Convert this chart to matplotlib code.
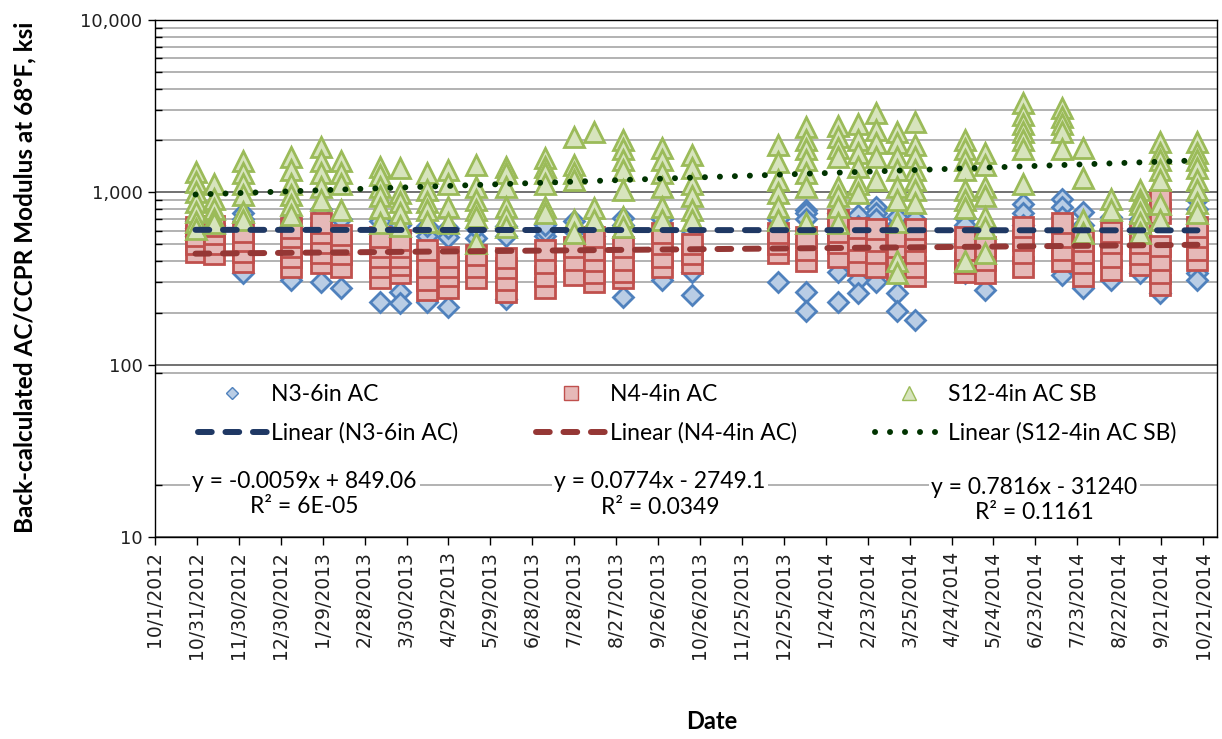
import matplotlib
matplotlib.use("Agg")
import matplotlib.pyplot as plt
from matplotlib.lines import Line2D
from matplotlib.patches import Rectangle
from matplotlib.ticker import FixedLocator, FuncFormatter, NullFormatter
from datetime import datetime, timedelta

plt.rcParams['font.family'] = ['Lato', 'DejaVu Sans']

# survey dates (FWD back-calculation runs)
survey = ["10/30/2012", "11/12/2012", "12/3/2012", "1/6/2013", "1/28/2013", "2/11/2013",
          "3/11/2013", "3/25/2013", "4/14/2013", "4/29/2013", "5/19/2013", "6/9/2013",
          "7/7/2013", "7/28/2013", "8/11/2013", "9/1/2013", "9/29/2013", "10/20/2013",
          "12/21/2013", "1/10/2014", "2/2/2014", "2/16/2014", "3/1/2014", "3/16/2014",
          "3/29/2014", "5/4/2014", "5/18/2014", "6/14/2014", "7/12/2014", "7/27/2014",
          "8/16/2014", "9/6/2014", "9/20/2014", "10/17/2014"]

# modulus, ksi, one list per survey date
n3 = [[560, 620, 680], [580, 650], [340, 600, 700, 760], [310, 600, 700],
      [300, 620, 720, 800], [280, 600, 700], [232, 600, 680], [263, 228, 580, 650],
      [232, 560, 640], [215, 550, 620], [540, 620], [240, 560, 640],
      [560, 600, 650], [600, 680], [560, 620], [247, 710, 650],
      [311, 600, 700], [345, 254, 600], [300, 620, 700], [263, 206, 790, 760, 700],
      [345, 232, 700, 760], [740, 311, 260, 640], [820, 300, 760, 700], [260, 206, 650, 720],
      [182, 600, 700], [710, 340, 650], [270, 620], [850, 760, 650],
      [920, 820, 330, 720], [770, 280, 650], [720, 311, 620], [340, 620, 700],
      [260, 700, 800], [900, 340, 311, 800, 700]]

n4 = [[450, 500, 560, 630], [440, 500, 570, 640], [395, 450, 520, 590], [370, 420, 480, 550, 620],
      [390, 446, 510, 580, 665], [370, 440, 500, 565], [320, 370, 420, 480, 550], [340, 380, 420, 480, 530],
      [270, 311, 370, 464], [280, 325, 370, 420], [320, 370, 430], [263, 311, 365, 415],
      [280, 325, 390, 464], [330, 406, 480], [300, 340, 400, 464, 550], [320, 345, 406, 480],
      [370, 420, 500, 580], [390, 440, 500], [446, 500, 580], [400, 464, 550],
      [420, 510, 590, 690], [380, 450, 530, 620], [370, 446, 520, 610], [360, 420, 480, 560],
      [325, 370, 446, 520, 610], [345, 390, 464, 550], [340, 406, 480], [370, 446, 530, 630],
      [400, 464, 550, 665], [325, 390, 446, 520], [355, 420, 510, 590], [380, 440, 510, 590],
      [290, 340, 406, 490, 760, 900], [406, 464, 550, 630]]

s12 = [[1320, 1150, 1000, 880, 770, 670, 610], [1120, 920, 800, 700, 665],
       [1510, 1300, 1120, 965, 770, 690], [1610, 1350, 1120, 965, 845, 740],
       [1840, 1510, 1300, 1070, 900], [1510, 1300, 1120, 790],
       [1400, 1260, 1070, 950, 810, 665], [1380, 990, 880, 760, 640],
       [1300, 1030, 880, 790, 670], [1350, 1120, 820, 665],
       [1440, 1070, 900, 790, 720, 510], [1400, 1300, 1070, 820, 720, 630],
       [1590, 1400, 1300, 1120, 820, 760], [2100, 1440, 1300, 1180, 690, 580],
       [2250, 810, 690], [2010, 1780, 1540, 1350, 1030, 720, 630],
       [1810, 1540, 1300, 1070, 820, 690], [1650, 1380, 1120, 950, 790, 690],
       [1880, 1500, 1180, 990, 820, 690], [2400, 2010, 1780, 1540, 1300, 1070, 665],
       [2430, 2100, 1810, 1610, 1070, 950, 820, 665], [2500, 2010, 1700, 1400, 1120, 990],
       [2900, 2300, 1930, 1610, 1180], [2250, 1930, 1610, 1350, 1070, 900, 670, 400, 340],
       [2560, 1880, 1610, 1350, 1180, 1030, 870], [2010, 1780, 1540, 1350, 1030, 900, 810, 400],
       [1700, 1440, 1070, 950, 720, 620, 446], [3300, 2800, 2500, 2250, 2010, 1780, 1120],
       [3100, 2750, 2500, 2250, 1780], [1810, 1210, 690, 580],
       [920, 790], [1030, 900, 850, 760, 665, 580],
       [1960, 1700, 1540, 1350, 1180, 850, 690], [1960, 1700, 1540, 1380, 1180, 1030, 870, 760]]

# Excel linear trendlines (x = Excel serial date)
fits = {"N3-6in AC": (-0.0059, 849.06, "6E-05"),
        "N4-4in AC": (0.0774, -2749.1, "0.0349"),
        "S12-4in AC SB": (0.7816, -31240, "0.1161")}

series_names = ["N3-6in AC", "N4-4in AC", "S12-4in AC SB"]
markers = ["D", "s", "^"]
marker_sizes = [10, 14.5, 15]
edge_colors = ["#4F81BD", "#C0504D", "#9BBB59"]
face_colors = ["#B9CDE5", "#E6B9B8", "#D7E4BD"]
trend_colors = ["#1F3864", "#953735", "#003300"]


def parse(s):
    return datetime.strptime(s, "%m/%d/%Y")


dates = [parse(s) for s in survey]
excel0 = datetime(1899, 12, 30)

fig = plt.figure(figsize=(12.22, 7.39), dpi=100)
ax = fig.add_axes([155 / 1222, 1 - 537 / 739, 1062 / 1222, 517 / 739])

for k, data in enumerate([n3, n4, s12]):
    xs, ys = [], []
    for d, vals in zip(dates, data):
        xs += [d] * len(vals)
        ys += vals
    ax.plot(xs, ys, ls="none", marker=markers[k], ms=marker_sizes[k],
            mfc=face_colors[k], mec=edge_colors[k], mew=2, zorder=3 + k)

dash = (0, (2.3, 2.3))
trend_styles = [dict(ls=dash, dash_capstyle="round"),
                dict(ls=dash, dash_capstyle="round"),
                dict(ls=(0, (0.01, 2.5)), dash_capstyle="round")]

d0, d1 = min(dates), max(dates)
for k, name in enumerate(series_names):
    a, b, r2 = fits[name]
    xs = [d0, d1]
    ys = [a * (d - excel0).days + b for d in xs]
    ax.plot(xs, ys, color=trend_colors[k], lw=4.3, zorder=7, **trend_styles[k])

# axes setup
ax.set_yscale("log")
ax.set_ylim(10, 10000)
ax.yaxis.set_major_locator(FixedLocator([10, 100, 1000, 10000]))
minor = [m * 10 ** e for e in range(1, 4) for m in range(2, 10)]
ax.yaxis.set_minor_locator(FixedLocator(minor))
ax.yaxis.set_major_formatter(FuncFormatter(lambda v, p: f"{v:,.0f}"))
ax.yaxis.set_minor_formatter(NullFormatter())
ax.grid(which="major", axis="y", color="#595959", lw=1.2)
ax.grid(which="minor", axis="y", color="#A6A6A6", lw=1.2)
ax.set_axisbelow(True)

start = parse("10/1/2012")
ax.set_xlim(start, parse("10/31/2014"))
xticks = [start + timedelta(days=30 * k) for k in range(26)]
ax.set_xticks(xticks, [f"{d.month}/{d.day}/{d.year}" for d in xticks],
              rotation=90, fontfamily="DejaVu Sans", fontsize=13.5, color="#202020")
for lbl in ax.get_yticklabels():
    lbl.set_fontfamily("DejaVu Sans")
    lbl.set_fontsize(13)
    lbl.set_color("#202020")

ax.tick_params(axis="y", which="major", direction="out", length=5, width=1, pad=4)
ax.tick_params(axis="y", which="minor", direction="in", length=5, width=1)
ax.tick_params(axis="x", which="major", direction="out", length=6, width=1, pad=4)
for sp in ax.spines.values():
    sp.set_color("black")
    sp.set_linewidth(1)

ax.set_ylabel("Back-calculated AC/CCPR Modulus at 68°F, ksi", fontsize=17.5, fontweight="bold")
ax.yaxis.set_label_coords(-0.112, 0.502)
ax.set_xlabel("Date", fontsize=17, fontweight="bold")
ax.xaxis.set_label_coords(0.5245, -0.335)

# legend panel inside the plot area
ax.add_patch(Rectangle((0, 0.13), 1, 0.179, transform=ax.transAxes,
                       fc="white", ec="none", zorder=2))

handles, labels = [], []
for k, name in enumerate(series_names):
    handles.append(Line2D([], [], ls="none", marker=markers[k], ms=[6.5, 10, 10][k],
                          mfc=face_colors[k], mec=edge_colors[k], mew=1))
    labels.append(name)
    handles.append(Line2D([], [], color=trend_colors[k], lw=4.3, **trend_styles[k]))
    labels.append(f"Linear ({name})")

ax.legend(handles, labels, ncol=3, loc="upper left", bbox_to_anchor=(0.0405, 0.296),
          frameon=False, fontsize=16.5, handlelength=3.0, handletextpad=0.2,
          columnspacing=3.4, labelspacing=0.75, borderpad=0, borderaxespad=0)

# trendline equations
eq_pos = [(0.141, 0.083), (0.4755, 0.082), (0.828, 0.0716)]
for (x, y), name in zip(eq_pos, series_names):
    a, b, r2 = fits[name]
    if name == "N3-6in AC":
        eq = f"y = {a}x + {b}"
    else:
        eq = f"y = {a}x - {abs(b):g}"
    ax.text(x, y, f"{eq}\nR² = {r2}", transform=ax.transAxes, ha="center", va="center",
            multialignment="center", fontsize=16.5, linespacing=1.25, zorder=9,
            bbox=dict(fc="white", ec="none", pad=2))

fig.savefig("out.png", dpi=100)
